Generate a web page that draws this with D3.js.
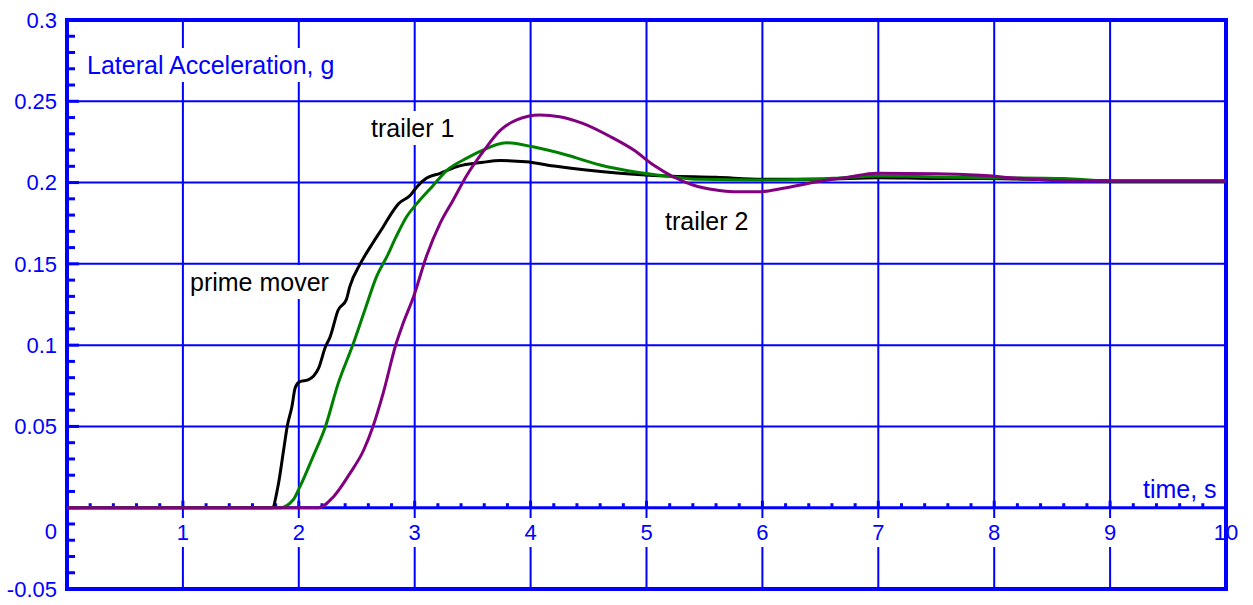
<!DOCTYPE html>
<html>
<head>
<meta charset="utf-8">
<script src="https://cdn.jsdelivr.net/npm/d3@7"></script>
<style>
  body { margin: 0; background: #fff; }
  text { font-family: "Liberation Sans", Arial, sans-serif; }
</style>
</head>
<body>
<svg id="chart" width="1253" height="605"></svg>
<script>
// data
var xTicks = [1, 2, 3, 4, 5, 6, 7, 8, 9, 10];
var yTicks = [0.3, 0.25, 0.2, 0.15, 0.1, 0.05, 0, -0.05];
var yTickLabels = ["0.3", "0.25", "0.2", "0.15", "0.1", "0.05", "0", "-0.05"];

var timePrime = [0, 1.77, 1.82, 1.87, 1.90, 1.94, 1.97, 2.01, 2.08, 2.17, 2.23, 2.27, 2.34, 2.41, 2.44, 2.53, 2.57, 2.64, 2.73, 2.79, 2.86, 2.96, 3.02, 3.10, 3.22, 3.36, 3.59, 3.74, 3.96, 4.22, 4.48, 4.77, 5.17, 5.60, 6.0, 6.5, 7.0, 7.5, 7.9, 8.3, 8.7, 9.2, 10];
var accPrime = [0, 0, 0.013, 0.036, 0.050, 0.062, 0.074, 0.0775, 0.0786, 0.0857, 0.099, 0.105, 0.1216, 0.128, 0.136, 0.150, 0.155, 0.163, 0.173, 0.180, 0.187, 0.192, 0.1975, 0.2026, 0.2057, 0.2097, 0.2125, 0.2135, 0.2128, 0.210, 0.2077, 0.2057, 0.204, 0.2032, 0.202, 0.202, 0.203, 0.2025, 0.2025, 0.202, 0.2015, 0.201, 0.201];

var timeTrailer1 = [0, 1.84, 1.95, 2.01, 2.12, 2.23, 2.34, 2.46, 2.57, 2.67, 2.76, 2.84, 2.93, 3.02, 3.15, 3.28, 3.45, 3.56, 3.79, 4.02, 4.31, 4.60, 4.89, 5.17, 5.46, 6.04, 6.61, 7.0, 7.5, 8.0, 8.6, 9.0, 10];
var accTrailer1 = [0, 0, 0.0047, 0.013, 0.031, 0.050, 0.0765, 0.099, 0.1216, 0.142, 0.1544, 0.1667, 0.179, 0.1872, 0.1975, 0.2077, 0.215, 0.219, 0.2245, 0.222, 0.217, 0.2108, 0.2067, 0.204, 0.202, 0.2016, 0.2026, 0.204, 0.2035, 0.203, 0.2025, 0.201, 0.201];

var timeTrailer2 = [0, 2.17, 2.30, 2.44, 2.56, 2.64, 2.73, 2.84, 2.90, 2.99, 3.10, 3.22, 3.33, 3.45, 3.59, 3.74, 3.88, 4.08, 4.25, 4.45, 4.69, 4.89, 5.06, 5.23, 5.40, 5.60, 5.75, 5.98, 6.18, 6.47, 6.73, 6.99, 7.5, 7.88, 8.22, 8.65, 10];
var accTrailer2 = [0, 0, 0.0068, 0.021, 0.0355, 0.050, 0.071, 0.101, 0.1134, 0.1298, 0.1544, 0.175, 0.189, 0.2045, 0.219, 0.2323, 0.2385, 0.2415, 0.2405, 0.2364, 0.2282, 0.22, 0.2108, 0.2036, 0.1985, 0.1954, 0.1944, 0.1944, 0.1965, 0.2005, 0.2032, 0.2057, 0.2055, 0.2045, 0.2026, 0.201, 0.201];

var seriesNames = ["prime mover", "trailer 1", "trailer 2"];
var seriesColors = ["#000000", "#008000", "#800080"];

var blue = "#0000ff";
var svg = d3.select("#chart");

var x = d3.scaleLinear().domain([0, 10]).range([67, 1226]);
var y = d3.scaleLinear().domain([-0.05, 0.3]).range([589, 20]);

// grid lines
var gGrid = svg.append("g");
gGrid.selectAll("line.v")
  .data(xTicks.slice(0, -1))
  .enter().append("line")
  .attr("x1", function(d) { return x(d); })
  .attr("x2", function(d) { return x(d); })
  .attr("y1", y(0.3)).attr("y2", y(-0.05))
  .attr("stroke", blue).attr("stroke-width", 2);

gGrid.selectAll("line.h")
  .data([0.25, 0.2, 0.15, 0.1, 0.05])
  .enter().append("line")
  .attr("x1", x(0)).attr("x2", x(10))
  .attr("y1", function(d) { return y(d); })
  .attr("y2", function(d) { return y(d); })
  .attr("stroke", blue).attr("stroke-width", 2);

// label layer: white boxes cut the grid lines
var gLabels = svg.append("g");

function boxedText(g, txt, tx, ty, size, color, anchor, pad) {
  var t = g.append("text")
    .attr("x", tx).attr("y", ty)
    .attr("font-size", size + "px")
    .attr("fill", color)
    .attr("text-anchor", anchor || "start")
    .text(txt);
  var bb = t.node().getBBox();
  g.insert("rect", function() { return t.node(); })
    .attr("x", bb.x - pad).attr("y", bb.y - pad)
    .attr("width", bb.width + 2 * pad).attr("height", bb.height + 2 * pad)
    .attr("fill", "#fff");
  return t;
}

// x tick labels
xTicks.forEach(function(d) {
  boxedText(gLabels, String(d), x(d), 540, 22, blue, "middle", 2);
});

// y tick labels
yTicks.forEach(function(d, i) {
  var yy = d === 0 ? y(0) + 23 : y(d);
  svg.append("text")
    .attr("x", 57).attr("y", yy)
    .attr("dy", "0.36em")
    .attr("font-size", "22px")
    .attr("fill", blue)
    .attr("text-anchor", "end")
    .text(yTickLabels[i]);
});

boxedText(gLabels, "Lateral Acceleration, g", 87, 74, 25, blue, "start", 3);
svg.append("text")
  .attr("x", 1143).attr("y", 498)
  .attr("font-size", "25px").attr("fill", blue)
  .text("time, s");

// series labels
boxedText(gLabels, "trailer 1", 371, 137, 25, "#000", "start", 3);
boxedText(gLabels, "prime mover", 190, 291, 25, "#000", "start", 3);
boxedText(gLabels, "trailer 2", 665, 230, 25, "#000", "start", 3);

// zero axis with small ticks
svg.append("line")
  .attr("x1", x(0)).attr("x2", x(10))
  .attr("y1", y(0)).attr("y2", y(0))
  .attr("stroke", blue).attr("stroke-width", 3);

var xMinor = d3.range(1, 50).map(function(i) { return i * 0.2; });
svg.selectAll("line.xm")
  .data(xMinor)
  .enter().append("line")
  .attr("x1", function(d) { return x(d); })
  .attr("x2", function(d) { return x(d); })
  .attr("y1", y(0))
  .attr("y2", function(d, i) { return (i + 1) % 5 === 0 ? y(0) - 7 : y(0) - 4.5; })
  .attr("stroke", blue).attr("stroke-width", 3);

var yMinor = d3.range(-4, 30).map(function(i) { return i / 100; });
svg.selectAll("line.ym")
  .data(yMinor)
  .enter().append("line")
  .attr("x1", x(0))
  .attr("x2", function(d, i) { return (i + 1) % 5 === 0 ? x(0) + 12 : x(0) + 8; })
  .attr("y1", function(d) { return y(d); })
  .attr("y2", function(d) { return y(d); })
  .attr("stroke", blue).attr("stroke-width", 3);

// frame
svg.append("rect")
  .attr("x", x(0)).attr("y", y(0.3))
  .attr("width", x(10) - x(0)).attr("height", y(-0.05) - y(0.3))
  .attr("fill", "none").attr("stroke", blue).attr("stroke-width", 4);

// curves
var allSeries = [
  d3.zip(timePrime, accPrime),
  d3.zip(timeTrailer1, accTrailer1),
  d3.zip(timeTrailer2, accTrailer2)
];

var line = d3.line()
  .x(function(d) { return x(d[0]); })
  .y(function(d) { return y(d[1]); })
  .curve(d3.curveMonotoneX);

svg.selectAll("path.curve")
  .data(allSeries)
  .enter().append("path")
  .attr("class", "curve")
  .attr("d", line)
  .attr("fill", "none")
  .attr("stroke", function(d, i) { return seriesColors[i]; })
  .attr("stroke-width", 3);
</script>
</body>
</html>
